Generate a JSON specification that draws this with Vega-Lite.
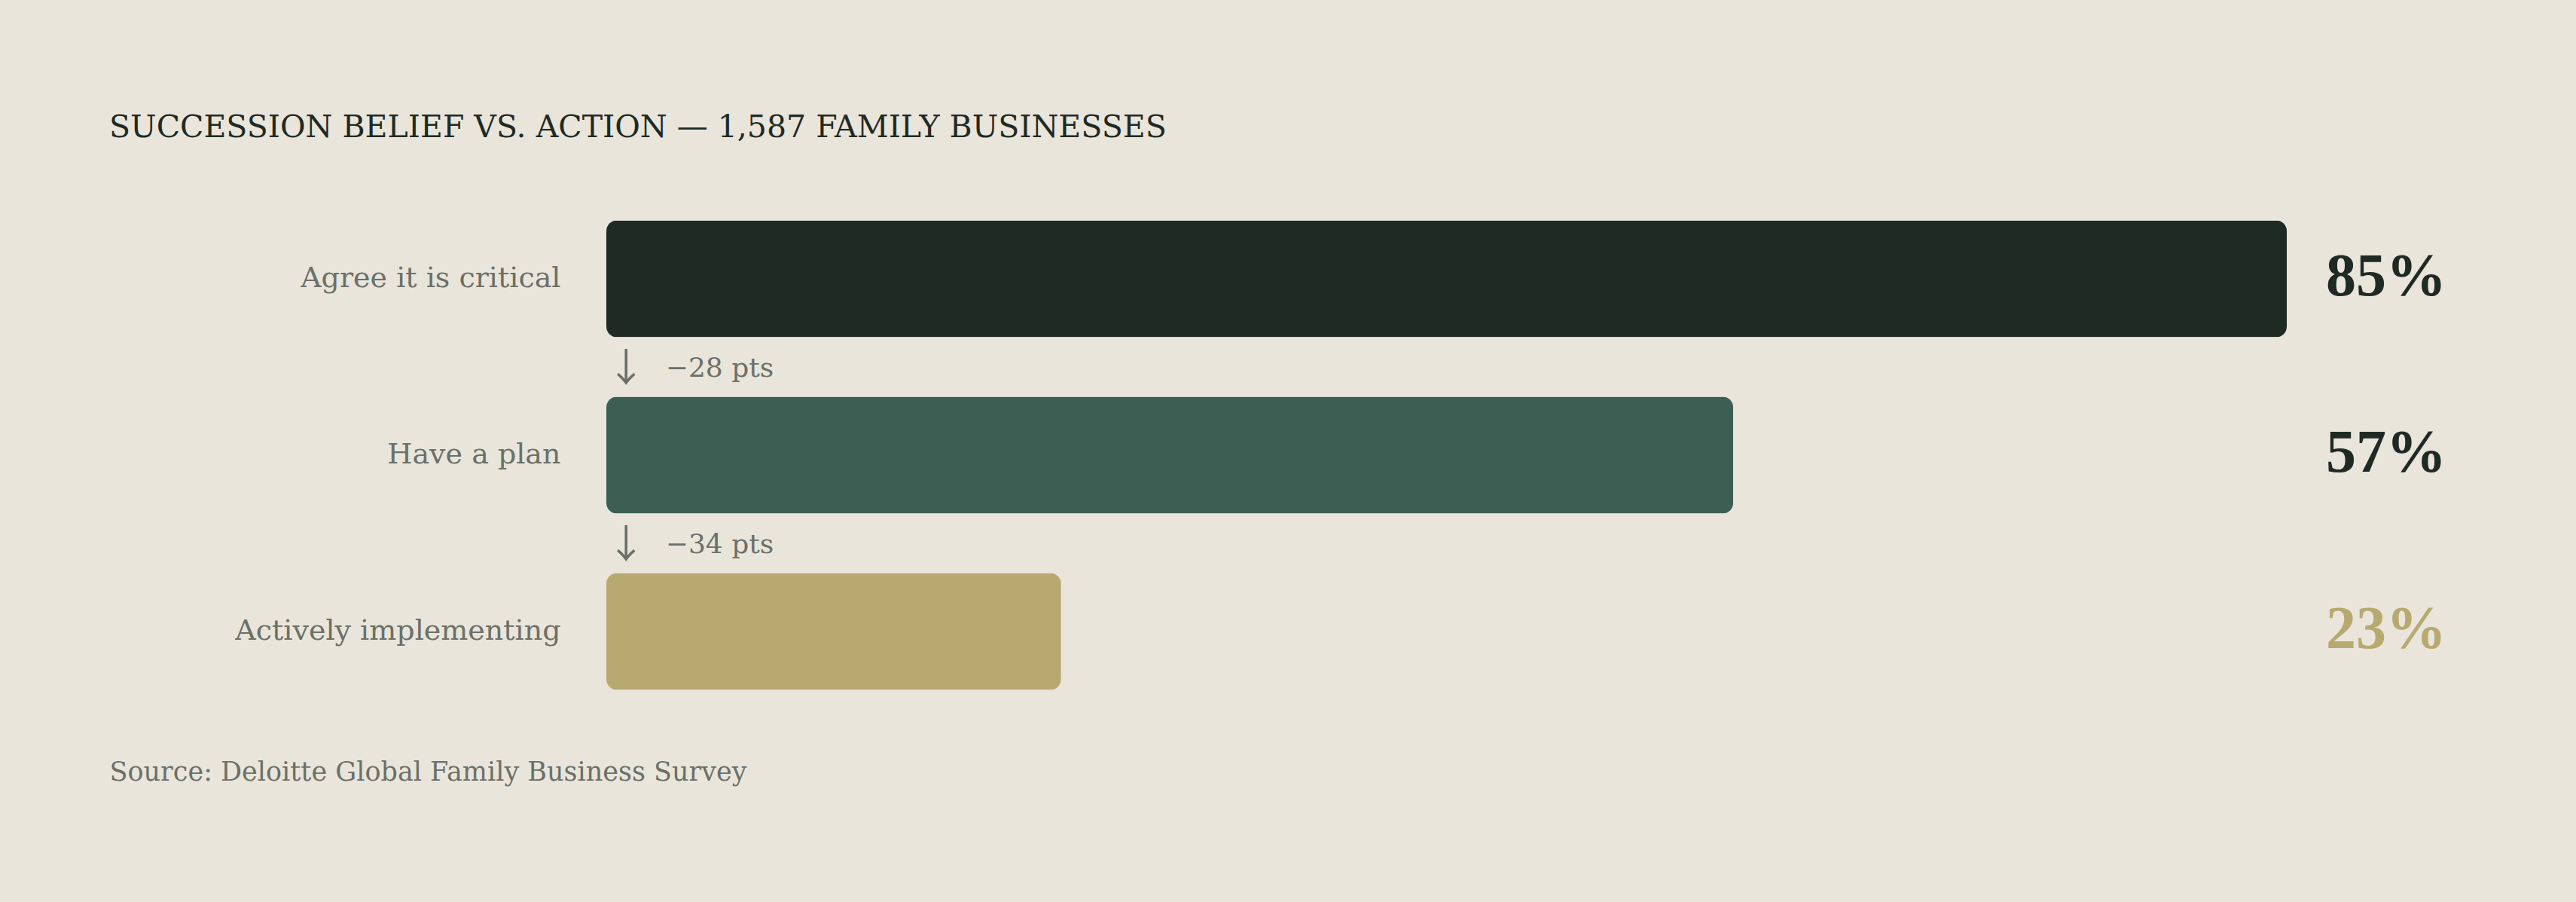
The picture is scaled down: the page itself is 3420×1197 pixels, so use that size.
{
  "$schema": "https://vega.github.io/schema/vega-lite/v6.json",
  "description": "Succession belief vs. action",
  "autosize": {"type": "none"},
  "padding": {"left": 805, "top": 253, "right": 384, "bottom": 242},
  "width": 2231,
  "height": 702,
  "background": "#E9E5DB",
  "config": {"view": {"stroke": null}},
  "title": {
    "text": "SUCCESSION BELIEF VS. ACTION — 1,587 FAMILY BUSINESSES",
    "anchor": "start",
    "frame": "group",
    "dx": -660,
    "offset": 30,
    "baseline": "alphabetic",
    "font": "DejaVu Serif",
    "fontSize": 41,
    "fontWeight": "normal",
    "color": "#1F2A24"
  },
  "datasets": {
    "stages": [
      {"stage": "Agree it is critical", "pct": 85},
      {"stage": "Have a plan", "pct": 57},
      {"stage": "Actively implementing", "pct": 23}
    ],
    "drops": [
      {"from": "Agree it is critical", "note": "−28 pts"},
      {"from": "Have a plan", "note": "−34 pts"}
    ]
  },
  "data": {"name": "stages"},
  "encoding": {
    "y": {
      "field": "stage",
      "type": "nominal",
      "sort": null,
      "scale": {"paddingInner": 0.338, "paddingOuter": 0.169},
      "axis": {
        "title": null,
        "domain": false,
        "ticks": false,
        "tickSize": 0,
        "labelPadding": 61,
        "labelFont": "DejaVu Serif",
        "labelFontSize": 38,
        "labelColor": "#6B7068",
        "labelLimit": 800
      }
    }
  },
  "layer": [
    {
      "mark": {"type": "bar", "cornerRadius": 14},
      "encoding": {
        "x": {
          "field": "pct",
          "type": "quantitative",
          "scale": {"domain": [0, 85], "nice": false},
          "axis": {
            "orient": "bottom",
            "domain": false,
            "ticks": false,
            "labels": false,
            "grid": false,
            "title": "Source: Deloitte Global Family Business Survey",
            "titleFont": "DejaVu Serif",
            "titleFontSize": 35,
            "titleFontWeight": "normal",
            "titleColor": "#6B7068",
            "titleAlign": "left",
            "titleBaseline": "alphabetic",
            "titleX": -660,
            "titleY": 80
          }
        },
        "color": {
          "field": "stage",
          "type": "nominal",
          "legend": null,
          "scale": {
            "domain": ["Agree it is critical", "Have a plan", "Actively implementing"],
            "range": ["#1F2A24", "#3D5E53", "#B8A970"]
          }
        }
      }
    },
    {
      "transform": [{"calculate": "datum.pct + '%'", "as": "pct_label"}],
      "mark": {
        "type": "text",
        "align": "left",
        "baseline": "middle",
        "dx": 52,
        "dy": -2,
        "font": "Liberation Serif",
        "fontSize": 80,
        "fontWeight": "bold"
      },
      "encoding": {
        "x": {"datum": 85, "type": "quantitative"},
        "text": {"field": "pct_label", "type": "nominal"},
        "color": {
          "condition": {"test": "datum.stage === 'Actively implementing'", "value": "#B8A970"},
          "value": "#1F2A24"
        }
      }
    },
    {
      "data": {"name": "drops"},
      "mark": {
        "type": "text",
        "align": "center",
        "baseline": "middle",
        "dy": 44,
        "font": "Noto Sans CJK JP",
        "fontSize": 52,
        "color": "#6B7068"
      },
      "encoding": {
        "y": {"field": "from", "type": "nominal", "bandPosition": 1},
        "x": {"datum": 1, "type": "quantitative"},
        "text": {"value": "↓"}
      }
    },
    {
      "data": {"name": "drops"},
      "mark": {
        "type": "text",
        "align": "left",
        "baseline": "middle",
        "dy": 42,
        "font": "DejaVu Serif",
        "fontSize": 36,
        "color": "#6B7068"
      },
      "encoding": {
        "y": {"field": "from", "type": "nominal", "bandPosition": 1},
        "x": {"datum": 3, "type": "quantitative"},
        "text": {"field": "note", "type": "nominal"}
      }
    }
  ]
}
